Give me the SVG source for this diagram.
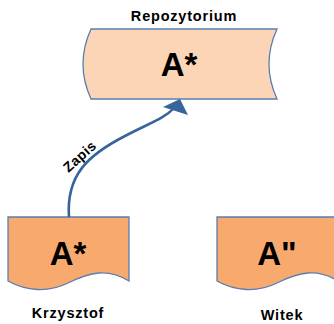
<svg xmlns="http://www.w3.org/2000/svg" width="334" height="324" viewBox="0 0 334 324">
  <style>
    .label { font-family: "Liberation Sans", Arial, sans-serif; font-weight: bold; fill: #000; }
    .name { font-size: 14.5px; letter-spacing: 0.8px; text-anchor: middle; }
    .big { font-size: 33px; text-anchor: middle; }
    .repo { fill: #FBD5B5; stroke: #5B7DB1; stroke-width: 1.3; }
    .doc { fill: #F8AA6E; stroke: #5B7DB1; stroke-width: 1.3; }
    .conn { fill: none; stroke: #37659A; stroke-width: 2.6; }
  </style>

  <g id="repozytorium">
    <text class="label name" x="184" y="21">Repozytorium</text>
    <path class="repo" d="M91,29 H277 Q261,64 277,99 H91 Q75,64 91,29 Z"/>
    <text class="label big" x="179" y="76">A*</text>
  </g>

  <g id="krzysztof">
    <path class="doc" d="M8,217 H129 V281 C108,268 90,272 68,283 C48,293 26,291 8,281 Z"/>
    <text class="label big" x="68" y="265">A*</text>
    <text class="label name" x="68" y="318">Krzysztof</text>
  </g>

  <g id="witek">
    <path class="doc" d="M217,217 H338 V281 C317,268 299,272 277,283 C257,293 235,291 217,281 Z"/>
    <text class="label big" x="277" y="265">A"</text>
    <text class="label name" x="282" y="320">Witek</text>
  </g>

  <g id="connectors">
    <path class="conn" d="M69,217 C66,175 88,155 125,136 C150,123 165,118 174,108"/>
    <polygon points="180,99 163,107 188,115" fill="#37659A"/>
    <text class="label" font-size="14" letter-spacing="0.5" transform="translate(83,160) rotate(-42)" text-anchor="middle">Zapis</text>
  </g>
</svg>
